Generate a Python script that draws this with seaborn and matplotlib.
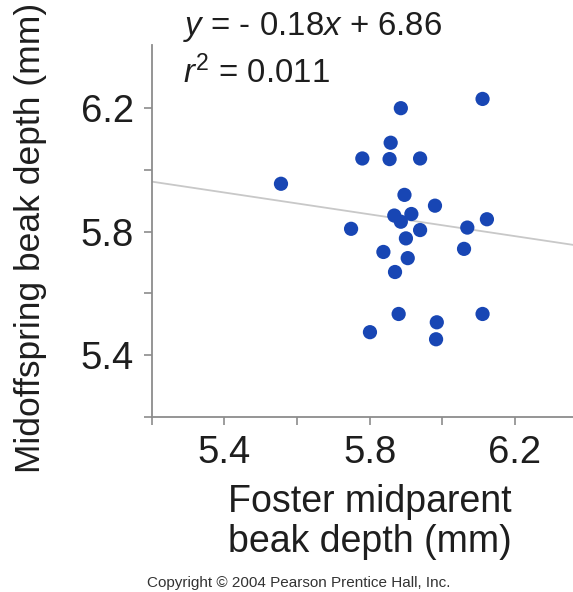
import matplotlib
matplotlib.use("Agg")
import matplotlib.pyplot as plt
import seaborn as sns
import pandas as pd

# Data
foster_midparent = [6.111, 5.886, 5.858, 5.780, 5.855, 5.939, 5.556, 5.896, 5.980,
                    5.868, 5.915, 5.886, 6.123, 5.749, 5.939, 6.069, 5.900, 5.838,
                    5.905, 6.060, 5.870, 5.880, 6.111, 5.985, 5.801, 5.983]
midoffspring = [6.230, 6.200, 6.088, 6.037, 6.035, 6.037, 5.955, 5.919, 5.884,
                5.852, 5.857, 5.832, 5.840, 5.809, 5.805, 5.813, 5.778, 5.734,
                5.714, 5.744, 5.669, 5.533, 5.533, 5.506, 5.474, 5.451]
fit_x = [5.20, 6.36]
fit_y = [5.962, 5.757]
x_ticks = [5.2, 5.4, 5.6, 5.8, 6.0, 6.2]
x_ticklabels = ["", "5.4", "", "5.8", "", "6.2"]
y_ticks = [5.2, 5.4, 5.6, 5.8, 6.0, 6.2]
y_ticklabels = ["", "5.4", "", "5.8", "", "6.2"]
equation_text = r"$y$ = - 0.18$x$ + 6.86"
r2_text = r"$r^2$ = 0.011"

sns.set_theme(style="white")
plt.rcParams['font.family'] = ['Liberation Sans', 'DejaVu Sans']
plt.rcParams['mathtext.fontset'] = 'custom'
plt.rcParams['mathtext.rm'] = 'Liberation Sans'
plt.rcParams['mathtext.it'] = 'Liberation Sans:italic'

df = pd.DataFrame({"x": foster_midparent, "y": midoffspring})
fit = pd.DataFrame({"x": fit_x, "y": fit_y})

fig = plt.figure(figsize=(5.73, 5.92), dpi=100)
ax = fig.add_axes([0.2647, 0.2961, 0.7353, 0.628])

sns.lineplot(data=fit, x="x", y="y", ax=ax, color="#c8c8c8", linewidth=1.3)
sns.scatterplot(data=df, x="x", y="y", ax=ax, s=105, color="#1846b4",
                edgecolor="none", zorder=3)

ax.set_xlim(5.2, 6.36)
ax.set_ylim(5.2, 6.405)
ax.set_xticks(x_ticks)
ax.set_xticklabels(x_ticklabels)
ax.set_yticks(y_ticks)
ax.set_yticklabels(y_ticklabels)
ax.tick_params(axis="both", direction="out", length=6, width=1.2,
               color="#8c8c8c", labelsize=27.5, labelcolor="#1e1e1e",
               bottom=True, left=True)
ax.tick_params(axis="x", pad=7)
ax.tick_params(axis="y", pad=7)

for side in ["top", "right"]:
    ax.spines[side].set_visible(False)
for side in ["left", "bottom"]:
    ax.spines[side].set_color("#8c8c8c")
    ax.spines[side].set_linewidth(1.3)

ax.set_xlabel("")
ax.set_ylabel("")
fig.text(0.053, 0.598, "Midoffspring beak depth (mm)", rotation=90,
         ha="center", va="center", fontsize=25.5, color="#1e1e1e")
fig.text(0.645, 0.118, "Foster midparent\nbeak depth (mm)", ha="center",
         va="center", fontsize=27, color="#1e1e1e", linespacing=1.12)
fig.text(0.522, 0.015, "Copyright © 2004 Pearson Prentice Hall, Inc.",
         ha="center", va="center", fontsize=11, color="#333333")

ax.text(0.32, 0.941, equation_text, transform=fig.transFigure, fontsize=23.8,
        ha="left", va="baseline", color="#1e1e1e")
ax.text(0.32, 0.860, r2_text, transform=fig.transFigure, fontsize=23.8,
        ha="left", va="baseline", color="#1e1e1e")

fig.savefig("out.png", dpi=100)
